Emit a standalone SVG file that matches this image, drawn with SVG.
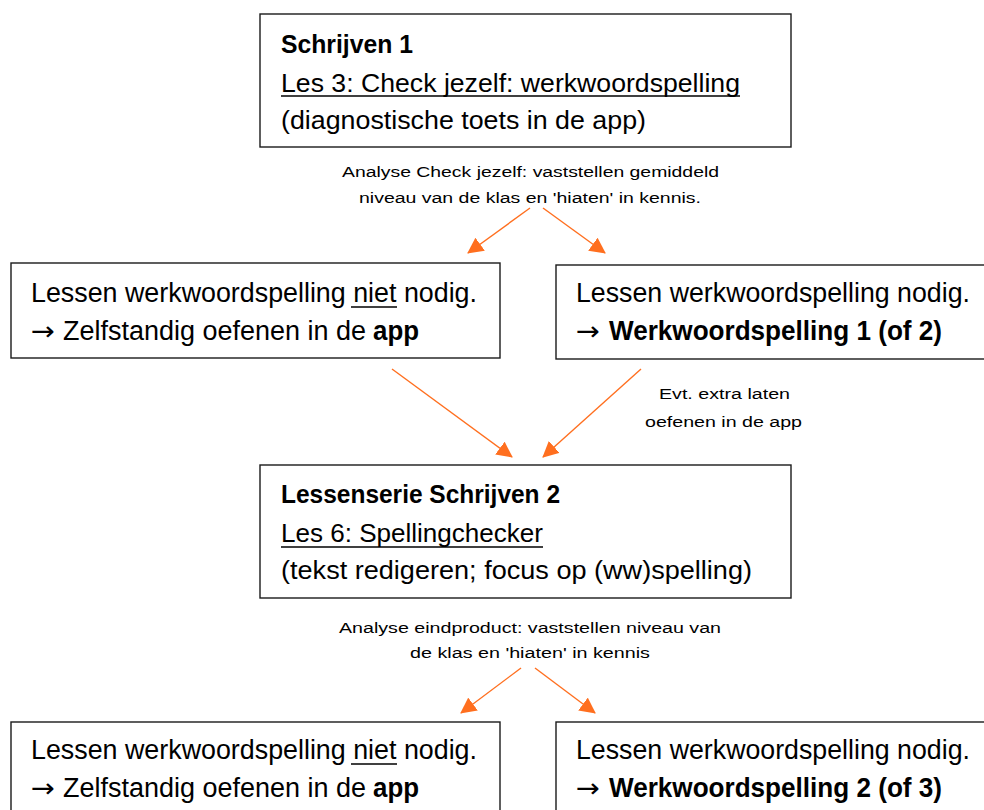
<svg xmlns="http://www.w3.org/2000/svg" width="984" height="810" viewBox="0 0 984 810">
<style>
.box{fill:#fff;stroke:#1a1a1a;stroke-width:1.4}
.t{font-family:"Liberation Sans",Arial,sans-serif;fill:#000}
.ar{font-family:"DejaVu Sans",sans-serif;font-size:26px;fill:#000}
.big{font-size:27px}
.mid{font-size:25px}
.lab{font-size:15.5px}
.sm{font-size:14px}
.b{font-weight:bold}
.ul{stroke:#000;stroke-width:1.6}
.arr{stroke:#FF6F1F;stroke-width:1.4;fill:none;marker-end:url(#ah)}
</style>
<defs>
<marker id="ah" markerUnits="userSpaceOnUse" markerWidth="16" markerHeight="16" viewBox="0 0 16 16" refX="15" refY="8" orient="auto">
<path d="M0,0 L16,8 L0,16 Z" fill="#FF6F1F"/>
</marker>
</defs>
<rect width="984" height="810" fill="#fff"/>
<g id="connectors">
<line class="arr" x1="530" y1="208" x2="468" y2="253"/>
<line class="arr" x1="543" y1="208" x2="605" y2="253"/>
<line class="arr" x1="392" y1="369" x2="512" y2="457"/>
<line class="arr" x1="641" y1="369" x2="543" y2="457"/>
<line class="arr" x1="521" y1="668" x2="461" y2="713"/>
<line class="arr" x1="535" y1="668" x2="595" y2="713"/>
</g>
<g id="label1">
<text class="t lab" x="342" y="177" textLength="377" lengthAdjust="spacingAndGlyphs">Analyse Check jezelf: vaststellen gemiddeld</text>
<text class="t lab" x="359" y="203" textLength="342" lengthAdjust="spacingAndGlyphs">niveau van de klas en 'hiaten' in kennis.</text>
</g>
<g id="label2">
<text class="t sm" x="659" y="399" textLength="131" lengthAdjust="spacingAndGlyphs">Evt. extra laten</text>
<text class="t sm" x="645" y="427" textLength="157" lengthAdjust="spacingAndGlyphs">oefenen in de app</text>
</g>
<g id="label3">
<text class="t lab" x="339" y="633" textLength="382" lengthAdjust="spacingAndGlyphs">Analyse eindproduct: vaststellen niveau van</text>
<text class="t lab" x="410" y="658" textLength="240" lengthAdjust="spacingAndGlyphs">de klas en 'hiaten' in kennis</text>
</g>
<g id="node-schrijven1">
<rect class="box" x="260" y="14" width="531" height="133"/>
<text class="t mid b" x="281" y="53" textLength="132" lengthAdjust="spacingAndGlyphs">Schrijven 1</text>
<text class="t mid" x="281" y="92" textLength="459" lengthAdjust="spacingAndGlyphs">Les 3: Check jezelf: werkwoordspelling</text>
<line class="ul" x1="281" y1="96" x2="740" y2="96"/>
<text class="t mid" x="281" y="129" textLength="365" lengthAdjust="spacingAndGlyphs">(diagnostische toets in de app)</text>
</g>
<g id="node-niet1">
<rect class="box" x="11" y="263" width="489" height="95"/>
<text class="t big" x="31" y="302" textLength="446" lengthAdjust="spacingAndGlyphs">Lessen werkwoordspelling niet nodig.</text>
<line class="ul" x1="351" y1="307" x2="397" y2="307"/>
<text class="ar" x="31" y="340" textLength="24" lengthAdjust="spacingAndGlyphs">→</text>
<text class="t big" x="63" y="340" textLength="303" lengthAdjust="spacingAndGlyphs">Zelfstandig oefenen in de</text>
<text class="t big b" x="373" y="340" textLength="46" lengthAdjust="spacingAndGlyphs">app</text>
</g>
<g id="node-nodig1">
<rect class="box" x="556" y="265" width="440" height="94"/>
<text class="t big" x="576" y="302" textLength="394" lengthAdjust="spacingAndGlyphs">Lessen werkwoordspelling nodig.</text>
<text class="ar" x="576" y="340" textLength="24" lengthAdjust="spacingAndGlyphs">→</text>
<text class="t big b" x="609" y="340" textLength="333" lengthAdjust="spacingAndGlyphs">Werkwoordspelling 1 (of 2)</text>
</g>
<g id="node-schrijven2">
<rect class="box" x="260" y="465" width="531" height="133"/>
<text class="t mid b" x="281" y="503" textLength="279" lengthAdjust="spacingAndGlyphs">Lessenserie Schrijven 2</text>
<text class="t mid" x="281" y="542" textLength="262" lengthAdjust="spacingAndGlyphs">Les 6: Spellingchecker</text>
<line class="ul" x1="281" y1="547" x2="543" y2="547"/>
<text class="t mid" x="281" y="579" textLength="471" lengthAdjust="spacingAndGlyphs">(tekst redigeren; focus op (ww)spelling)</text>
</g>
<g id="node-niet2">
<rect class="box" x="11" y="722" width="489" height="110"/>
<text class="t big" x="31" y="759" textLength="446" lengthAdjust="spacingAndGlyphs">Lessen werkwoordspelling niet nodig.</text>
<line class="ul" x1="351" y1="764" x2="397" y2="764"/>
<text class="ar" x="31" y="797" textLength="24" lengthAdjust="spacingAndGlyphs">→</text>
<text class="t big" x="63" y="797" textLength="303" lengthAdjust="spacingAndGlyphs">Zelfstandig oefenen in de</text>
<text class="t big b" x="373" y="797" textLength="46" lengthAdjust="spacingAndGlyphs">app</text>
</g>
<g id="node-nodig2">
<rect class="box" x="556" y="722" width="440" height="110"/>
<text class="t big" x="576" y="759" textLength="394" lengthAdjust="spacingAndGlyphs">Lessen werkwoordspelling nodig.</text>
<text class="ar" x="576" y="797" textLength="24" lengthAdjust="spacingAndGlyphs">→</text>
<text class="t big b" x="609" y="797" textLength="333" lengthAdjust="spacingAndGlyphs">Werkwoordspelling 2 (of 3)</text>
</g>
</svg>
